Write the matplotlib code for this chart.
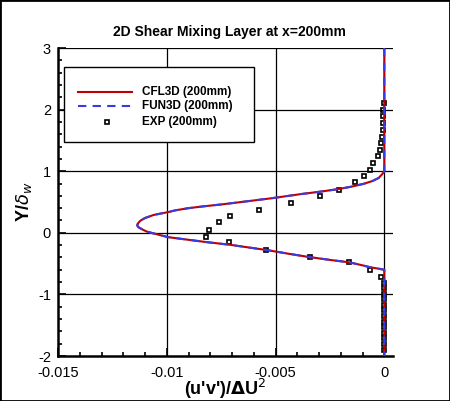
import matplotlib
matplotlib.use("Agg")
import matplotlib.pyplot as plt
from matplotlib.patches import Rectangle
from matplotlib.lines import Line2D
from matplotlib.ticker import MultipleLocator, FixedLocator

plt.rcParams['font.family'] = ['Liberation Sans', 'DejaVu Sans']

title = "2D Shear Mixing Layer at x=200mm"
x_label = "(u'v')/$\\mathbf{\\Delta}$U$^2$"
y_label = "Y/$\\delta_w$"
x_ticks = [-0.015, -0.01, -0.005, 0]
x_tick_labels = ["-0.015", "-0.01", "-0.005", "0"]
y_ticks = [-2, -1, 0, 1, 2, 3]
y_tick_labels = ["-2", "-1", "0", "1", "2", "3"]
series_names = ["CFL3D (200mm)", "FUN3D (200mm)", "EXP (200mm)"]

cfl3d_y = [3.0, 1.0, 0.95, 0.89, 0.84, 0.795, 0.75, 0.71, 0.67, 0.63, 0.595, 0.56,
           0.525, 0.49, 0.46, 0.43, 0.40, 0.365, 0.335, 0.29, 0.24, 0.195, 0.15,
           0.12, 0.09, 0.05, 0.02, -0.02, -0.07, -0.11, -0.15, -0.195, -0.24,
           -0.28, -0.34, -0.395, -0.44, -0.48, -0.52, -0.56, -0.58, -0.60, -2.0]
cfl3d_x = [0, 0, -0.0001, -0.00026, -0.00055, -0.00095, -0.0015, -0.0021, -0.0029,
           -0.0038, -0.0045, -0.0052, -0.006, -0.0068, -0.0075, -0.0083, -0.009,
           -0.0096, -0.00995, -0.0106, -0.011, -0.01122, -0.01133, -0.01136,
           -0.0113, -0.0111, -0.01092, -0.0105, -0.00995, -0.00908, -0.0082,
           -0.00708, -0.0062, -0.0054, -0.0044, -0.00343, -0.0025, -0.0016,
           -0.0011, -0.00064, -0.0003, 0, 0]

fun3d_y = list(cfl3d_y)
fun3d_x = list(cfl3d_x)

exp_y = [2.10, 1.99, 1.89, 1.79, 1.67, 1.56, 1.46, 1.35, 1.24, 1.13, 1.02, 0.914,
         0.817, 0.70, 0.59, 0.487, 0.373, 0.265, 0.168, 0.049, -0.065, -0.157,
         -0.276, -0.395, -0.48, -0.60, -0.71, -0.81, -0.90, -0.99, -1.08, -1.17,
         -1.26, -1.35, -1.44, -1.53, -1.62, -1.71, -1.80, -1.90]
exp_x = [-0.00003, -0.00004, -0.00005, -0.00005, -0.00006, -0.00009, -0.00014,
         -0.00018, -0.00029, -0.00054, -0.00064, -0.00092, -0.00133, -0.0021,
         -0.00294, -0.00428, -0.00578, -0.00708, -0.00759, -0.00805, -0.00819,
         -0.00713, -0.00543, -0.00343, -0.0016, -0.00064, -0.00014, -0.00002,
         -0.00002, -0.00002, -0.00002, -0.00002, -0.00002, -0.00002, -0.00002,
         -0.00002, -0.00002, -0.00002, -0.00002, -0.00002]

red = "#c00000"
blue = "#3a3ae0"

fig = plt.figure(figsize=(4.5, 4.01), dpi=100)
ax = fig.add_axes([58/450, (401-356)/401, 335/450, 308/401])

ax.plot(exp_x, exp_y, linestyle='none', marker='s', ms=3.0, mfc='none',
        mec='black', mew=1.2, zorder=3)
ax.plot(cfl3d_x, cfl3d_y, color=red, lw=1.5, zorder=4)
ax.plot(fun3d_x, fun3d_y, color=blue, lw=1.5, dashes=(4, 3), zorder=5)

ax.set_xlim(-0.015, 0.0004)
ax.set_ylim(-2, 3)

for yv in y_ticks[1:]:
    ax.axhline(yv, color='black', lw=0.9, zorder=1)
for xv in x_ticks[1:]:
    ax.axvline(xv, color='black', lw=0.9, zorder=1)

ax.xaxis.set_major_locator(FixedLocator(x_ticks))
ax.set_xticklabels(x_tick_labels)
ax.yaxis.set_major_locator(FixedLocator(y_ticks))
ax.set_yticklabels(y_tick_labels)
ax.xaxis.set_minor_locator(MultipleLocator(0.001))
ax.yaxis.set_minor_locator(MultipleLocator(0.2))
ax.tick_params(which='both', direction='in', top=False, right=False,
               labelsize=10.5, width=1.2)
ax.tick_params(axis='x', pad=7)
ax.tick_params(axis='y', pad=5)
ax.tick_params(which='major', length=6)
ax.tick_params(which='minor', length=3)

for s in ['top', 'right']:
    ax.spines[s].set_visible(False)
for s in ['left', 'bottom']:
    ax.spines[s].set_linewidth(1.8)

ax.set_xlabel(x_label, fontsize=13, fontweight='bold', labelpad=-2)
ax.set_ylabel(y_label, fontsize=13, fontweight='bold', labelpad=3)
fig.text(229/450, 1 - 32/401, title, ha='center', va='center',
         fontsize=10, fontweight='bold')

# legend
ax.add_patch(Rectangle((0.018, 0.695), 0.567, 0.243, transform=ax.transAxes,
                       facecolor='white', edgecolor='black', lw=1.0, zorder=6))
leg_y = [0.857, 0.812, 0.760]
ax.add_line(Line2D([0.060, 0.221], [leg_y[0]]*2, transform=ax.transAxes,
                   color=red, lw=1.5, zorder=7))
ax.add_line(Line2D([0.060, 0.221], [leg_y[1]]*2, transform=ax.transAxes,
                   color=blue, lw=1.5, dashes=(4, 3), zorder=7))
ax.add_line(Line2D([0.145], [leg_y[2]], transform=ax.transAxes, marker='s',
                   ms=3.0, mfc='none', mec='black', mew=1.2, linestyle='none',
                   zorder=7))
for yy, name in zip(leg_y, series_names):
    ax.text(0.251, yy, name, transform=ax.transAxes, ha='left', va='center',
            fontsize=8.5, fontweight='bold', zorder=7)

fig.add_artist(Rectangle((0, 0), 1, 1, transform=fig.transFigure, fill=False,
                         edgecolor='black', lw=2))

fig.savefig("out.png", dpi=100)
